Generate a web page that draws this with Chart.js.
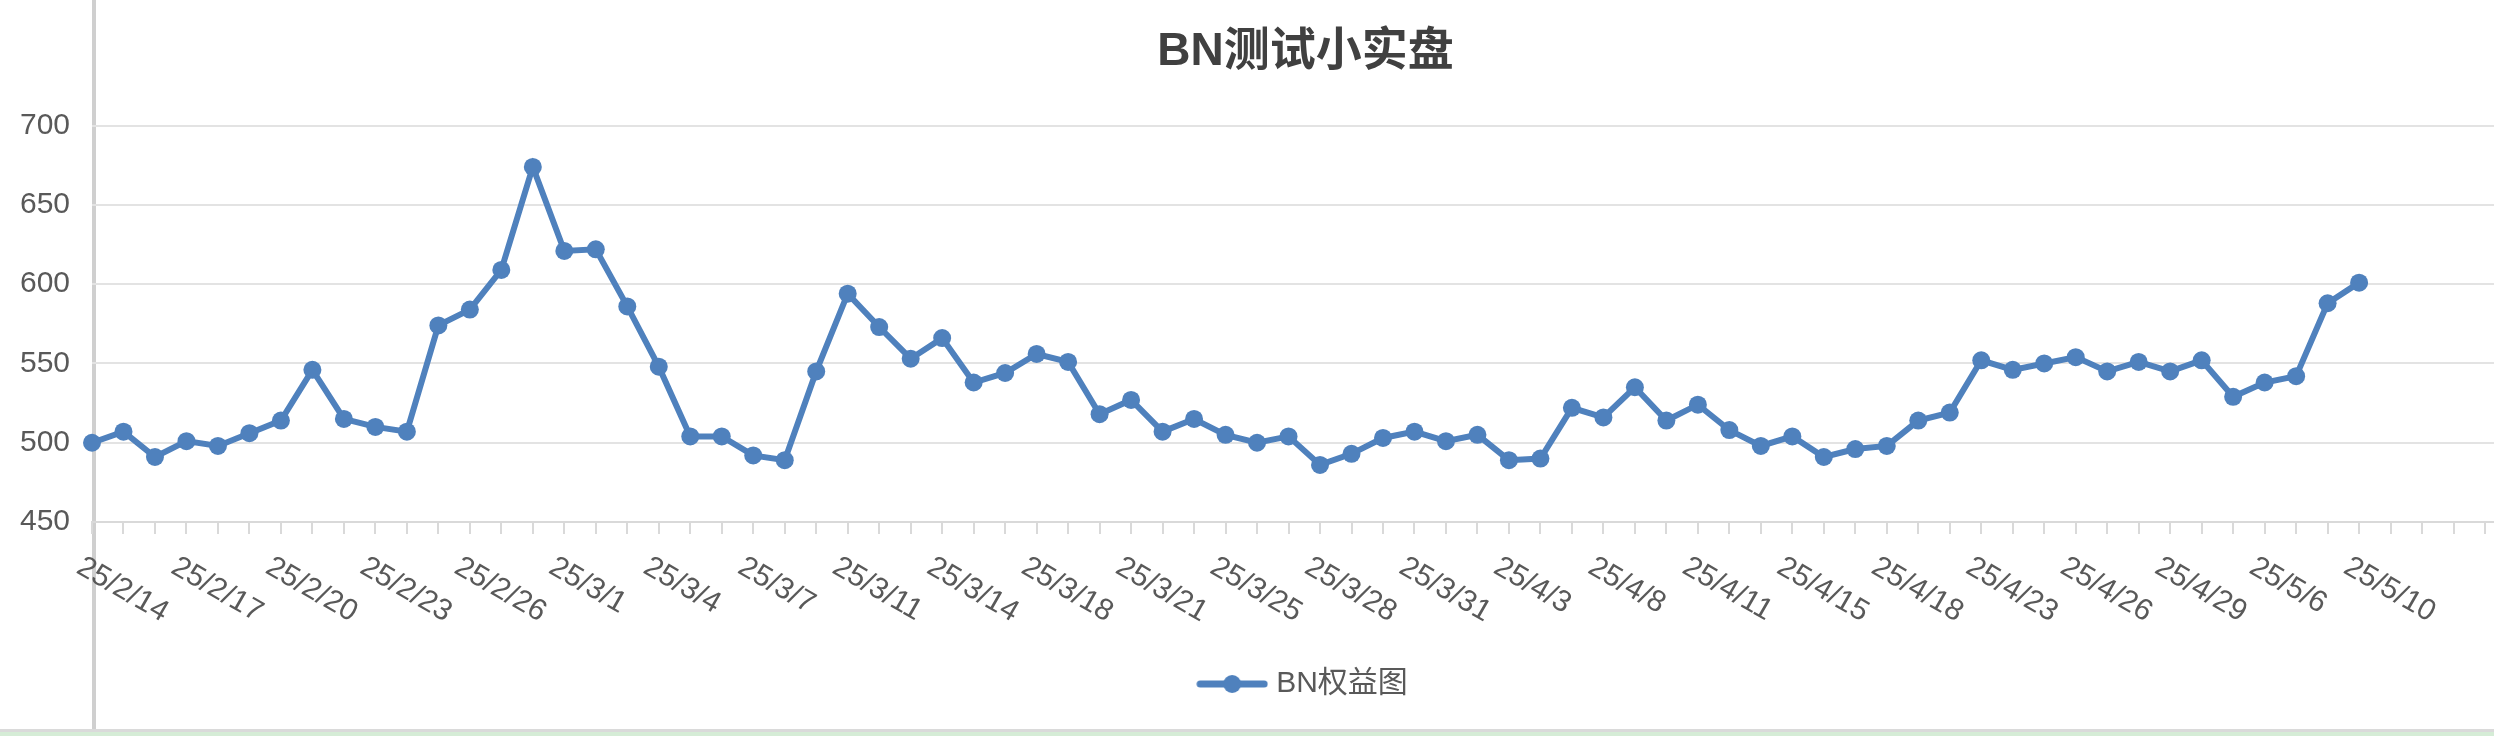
<!DOCTYPE html>
<html>
<head>
<meta charset="utf-8">
<script src="https://cdn.jsdelivr.net/npm/chart.js@4/dist/chart.umd.min.js"></script>
<style>
  html, body { margin: 0; padding: 0; background: #fff; overflow: hidden; }
  #wrap { position: relative; width: 2494px; height: 736px; overflow: hidden; }
  #sheetLine { position: absolute; left: 92px; top: 0; width: 4px; height: 736px; background: #cfcfcf; }
  #sheetBar { position: absolute; left: 0; top: 729px; width: 2494px; height: 7px; background: #d5ecd6; border-top: 3px solid #dadada; box-sizing: border-box; }
  #chart { position: absolute; left: 0; top: 0; }
</style>
</head>
<body>
<div id="wrap">
  <div id="sheetLine"></div>
  <div id="sheetBar"></div>
  <canvas id="chart" width="2641" height="736"></canvas>
</div>
<script>
// every third date is shown on the axis
var tickLabels = ['25/2/14', '25/2/17', '25/2/20', '25/2/23', '25/2/26', '25/3/1', '25/3/4',
    '25/3/7', '25/3/11', '25/3/14', '25/3/18', '25/3/21', '25/3/25', '25/3/28', '25/3/31',
    '25/4/3', '25/4/8', '25/4/11', '25/4/15', '25/4/18', '25/4/23', '25/4/26', '25/4/29',
    '25/5/6', '25/5/10'];

var equity = [500, 507, 491, 501, 498, 506, 514, 546, 515, 510,
    507, 574, 584, 609, 674, 621, 622, 586, 548, 504,
    504, 492, 489, 545, 594, 573, 553, 566, 538, 544,
    556, 551, 518, 527, 507, 515, 505, 500, 504, 486,
    493, 503, 507, 501, 505, 489, 490, 522, 516, 535,
    514, 524, 508, 498, 504, 491, 496, 498, 514, 519,
    552, 546, 550, 554, 545, 551, 545, 552, 529, 538,
    542, 588, 601];

var yTicks = [450, 500, 550, 600, 650, 700];

// the sheet range has some empty rows after the last value
var categoryCount = 81;
var categories = [];
for (var i = 0; i < categoryCount; i++) {
    categories.push(i % 3 === 0 && tickLabels[i / 3] ? tickLabels[i / 3] : '');
}

var blue = '#4f81bd';
var grey = '#595959';
var fontFamily = '"Liberation Sans", Arial, "Noto Sans CJK SC", sans-serif';

// legend symbol: line with a dot
var legendIcon = document.createElement('canvas');
legendIcon.width = 72;
legendIcon.height = 24;
(function () {
    var c = legendIcon.getContext('2d');
    c.strokeStyle = blue;
    c.lineWidth = 7;
    c.lineCap = 'round';
    c.beginPath();
    c.moveTo(4, 12);
    c.lineTo(68, 12);
    c.stroke();
    c.fillStyle = blue;
    c.beginPath();
    c.arc(36, 12, 9, 0, Math.PI * 2);
    c.fill();
})();

// slanted date labels, drawn down and to the right like the sheet does
var slantLabels = {
    id: 'slantLabels',
    afterDraw: function (chart) {
        var xs = chart.scales.x;
        var ctx = chart.ctx;
        ctx.save();
        ctx.font = '30px ' + fontFamily;
        ctx.fillStyle = grey;
        ctx.textAlign = 'left';
        ctx.textBaseline = 'alphabetic';
        categories.forEach(function (label, idx) {
            if (!label) return;
            var x = xs.getPixelForValue(idx);
            ctx.save();
            ctx.translate(x - 17, xs.top + 50);
            ctx.rotate(30 * Math.PI / 180);
            ctx.fillText(label, 0, 0);
            ctx.restore();
        });
        ctx.restore();
    }
};

var ctx = document.getElementById('chart');

var myChart = new Chart(ctx, {
    type: 'line',
    data: {
        labels: categories,
        datasets: [{
            label: 'BN权益图',
            data: equity,
            borderColor: blue,
            backgroundColor: blue,
            borderWidth: 6,
            pointRadius: 9,
            pointBorderWidth: 0,
            pointBackgroundColor: blue,
            tension: 0
        }]
    },
    options: {
        responsive: false,
        animation: false,
        devicePixelRatio: 1,
        layout: { padding: { left: 0, right: 30, top: 0, bottom: 27 } },
        plugins: {
            title: {
                display: true,
                text: 'BN测试小实盘',
                color: '#404040',
                font: { family: fontFamily, size: 46, weight: 'bold' },
                padding: { top: 24.4, bottom: 46.1 }
            },
            legend: {
                position: 'bottom',
                labels: {
                    usePointStyle: true,
                    pointStyle: legendIcon,
                    pointStyleWidth: 58,
                    color: grey,
                    padding: 10,
                    font: { family: fontFamily, size: 30 }
                }
            },
            tooltip: { enabled: false }
        },
        scales: {
            x: {
                offset: false,
                afterFit: function (scale) { scale.height = 137; },
                ticks: { display: false, autoSkip: false },
                grid: {
                    drawOnChartArea: false,
                    drawTicks: true,
                    tickLength: 12,
                    color: '#d9d9d9',
                    lineWidth: 2
                },
                border: { display: true, color: '#d9d9d9', width: 2 }
            },
            y: {
                min: 450,
                max: 700,
                afterFit: function (scale) { scale.width = 92; },
                afterBuildTicks: function (scale) {
                    scale.ticks = yTicks.map(function (v) { return { value: v }; });
                },
                ticks: {
                    color: grey,
                    padding: 22,
                    font: { family: fontFamily, size: 30 }
                },
                grid: { color: '#e3e3e3', lineWidth: 2, drawTicks: false },
                border: { display: false }
            }
        }
    },
    plugins: [slantLabels]
});
</script>
</body>
</html>
